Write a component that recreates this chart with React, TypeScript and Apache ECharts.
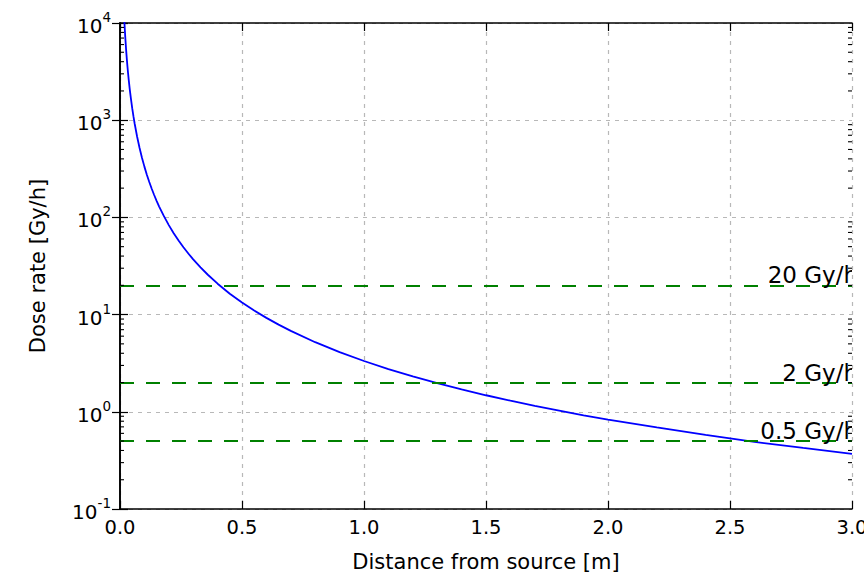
import React, { useEffect, useRef } from "react";
import * as echarts from "echarts";

// Distance from source [m]
const distance = [
  0.018, 0.02, 0.022, 0.025, 0.028, 0.03, 0.033, 0.036, 0.04, 0.045, 0.05, 0.055, 0.06, 0.07,
  0.08, 0.09, 0.1, 0.11, 0.12, 0.13, 0.14, 0.15, 0.16, 0.18, 0.2, 0.22, 0.24, 0.26, 0.28, 0.3,
  0.33, 0.36, 0.4, 0.45, 0.5, 0.55, 0.6, 0.65, 0.7, 0.8, 0.9, 1.0, 1.1, 1.2, 1.3, 1.4, 1.5,
  1.6, 1.7, 1.8, 1.9, 2.0, 2.2, 2.4, 2.6, 2.8, 3.0,
];
// Dose rate [Gy/h]
const doseRate = [
  10280, 8325, 6880, 5330, 4250, 3700, 3060, 2570, 2080, 1645, 1330, 1100, 925, 680,
  520, 411, 333, 275, 231, 197, 170, 148, 130, 103, 83.3, 68.8, 57.8, 49.3, 42.5, 37.0,
  30.6, 25.7, 20.8, 16.4, 13.3, 11.0, 9.25, 7.88, 6.8, 5.2, 4.11, 3.33, 2.75, 2.31, 1.97, 1.7, 1.48,
  1.3, 1.15, 1.03, 0.92, 0.83, 0.69, 0.58, 0.49, 0.425, 0.37,
];
// Threshold levels
const thresholds = [20, 2, 0.5];
const thresholdLabels = ["20 Gy/h", "2 Gy/h", "0.5 Gy/h"];

const FONT = "DejaVu Sans";
const W = 864;
const H = 575;

export default function App() {
  const ref = useRef<HTMLDivElement>(null);
  useEffect(() => {
    if (!ref.current) return;
    document.body.style.margin = "0";
    document.body.style.overflow = "hidden";
    const chart = echarts.init(ref.current, null, { renderer: "svg", width: W, height: H });

    const minorVals: number[] = [];
    for (let k = -1; k < 4; k++) {
      for (let m = 2; m <= 9; m++) minorVals.push(m * Math.pow(10, k));
    }

    const gridLine = { show: true, lineStyle: { color: "#b8b8b8", type: [4, 5], width: 1.2 } };
    const axisLine = { show: true, lineStyle: { color: "#000", width: 1.6 } };
    const majorTick = { show: true, inside: true, length: 8, lineStyle: { color: "#000", width: 1.2 } };

    chart.setOption({
      animation: false,
      backgroundColor: "#fff",
      grid: {
        left: 120,
        right: 12,
        top: 23,
        bottom: 66,
        containLabel: false,
        outerBoundsMode: "none",
      },
      xAxis: [
        {
          type: "value",
          min: 0,
          max: 3,
          interval: 0.5,
          position: "bottom",
          name: "Distance from source [m]",
          nameLocation: "middle",
          nameGap: 42,
          nameTextStyle: { fontFamily: FONT, fontSize: 21, color: "#000" },
          axisLine,
          axisTick: majorTick,
          axisLabel: {
            fontFamily: FONT,
            fontSize: 19.5,
            color: "#000",
            margin: 8,
            formatter: (v: number) => v.toFixed(1),
          },
          splitLine: gridLine,
        },
        {
          type: "value",
          min: 0,
          max: 3,
          interval: 0.5,
          position: "top",
          axisLine,
          axisTick: majorTick,
          axisLabel: { show: false },
          splitLine: { show: false },
        },
      ],
      yAxis: [
        {
          type: "log",
          logBase: 10,
          min: 0.1,
          max: 10000,
          position: "left",
          name: "Dose rate [Gy/h]",
          nameLocation: "middle",
          nameGap: 72,
          nameTextStyle: { fontFamily: FONT, fontSize: 21, color: "#000" },
          axisLine,
          axisTick: majorTick,
          axisLabel: {
            margin: 9,
            formatter: (v: number) => {
              const e = Math.round(Math.log10(v));
              return `{b|10}{s|${e}}`;
            },
            rich: {
              b: { fontFamily: FONT, fontSize: 20, color: "#000", lineHeight: 26, verticalAlign: "bottom" },
              s: { fontFamily: FONT, fontSize: 13.5, color: "#000", lineHeight: 14, verticalAlign: "top" },
            },
          },
          splitLine: gridLine,
        },
        {
          type: "log",
          logBase: 10,
          min: 0.1,
          max: 10000,
          position: "right",
          axisLine,
          axisTick: majorTick,
          axisLabel: { show: false },
          splitLine: { show: false },
        },
      ],
      series: [
        {
          name: "minor ticks",
          type: "custom",
          xAxisIndex: 0,
          yAxisIndex: 0,
          silent: true,
          z: 5,
          data: minorVals.map((v) => [0, v]),
          renderItem: (params: any, api: any) => {
            const cs = params.coordSys;
            const p = api.coord([0, api.value(1)]);
            const style = { stroke: "#000", lineWidth: 1.1 };
            return {
              type: "group",
              children: [
                { type: "line", shape: { x1: cs.x, y1: p[1], x2: cs.x + 4, y2: p[1] }, style },
                {
                  type: "line",
                  shape: { x1: cs.x + cs.width, y1: p[1], x2: cs.x + cs.width - 4, y2: p[1] },
                  style,
                },
              ],
            };
          },
        },
        {
          name: "thresholds",
          type: "line",
          data: [],
          silent: true,
          markLine: {
            silent: true,
            symbol: "none",
            label: { show: false },
            lineStyle: { color: "#008000", type: [14, 12], width: 2 },
            data: thresholds.map((v) => ({ yAxis: v })),
          },
        },
        {
          name: "dose",
          type: "line",
          data: distance.map((d, i) => [d, doseRate[i]]),
          showSymbol: false,
          symbol: "none",
          smooth: false,
          clip: true,
          z: 4,
          lineStyle: { color: "#0000ff", width: 1.8 },
        },
        {
          name: "threshold labels",
          type: "custom",
          silent: true,
          clip: true,
          z: 6,
          data: thresholds.map((v) => [3.0, v]),
          renderItem: (params: any, api: any) => {
            const p = api.coord([api.value(0), api.value(1)]);
            return {
              type: "text",
              style: {
                text: thresholdLabels[params.dataIndex],
                x: p[0] + 6,
                y: p[1] - 10,
                align: "right",
                verticalAlign: "middle",
                fontFamily: FONT,
                fontSize: 23,
                fill: "#000",
              },
            };
          },
        },
      ],
    });
    return () => chart.dispose();
  }, []);
  return <div ref={ref} style={{ position: "fixed", left: 0, top: 0, width: W, height: H }} />;
}
